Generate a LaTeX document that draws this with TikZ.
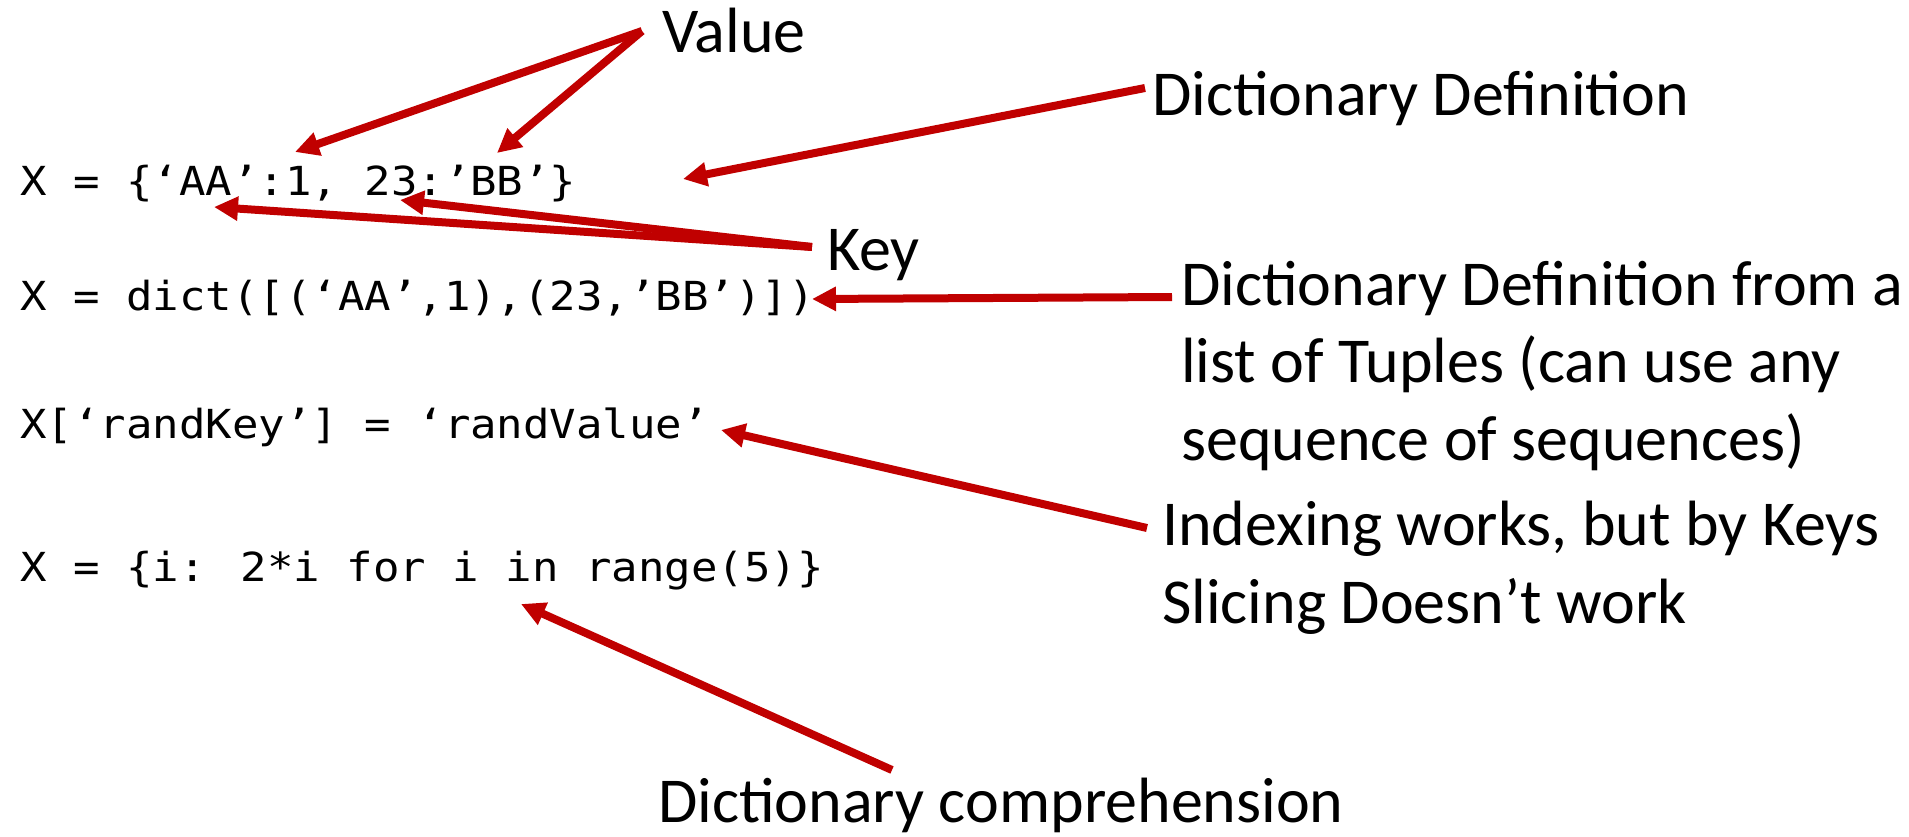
\documentclass[tikz,border=0pt]{standalone}
\usepackage{fontspec}
\setmainfont{Carlito}
\newfontfamily\codefont[FakeStretch=1.10]{DejaVu Sans Mono}
\usetikzlibrary{arrows.meta}
\definecolor{arrowred}{HTML}{C00000}
\tikzset{
  code/.style={anchor=base west, inner sep=0pt, font=\codefont\fontsize{40}{50}\selectfont},
  note/.style={anchor=base west, inner sep=0pt, align=left, font=\fontsize{64}{77.5}\selectfont},
  pointer/.style={draw=arrowred, line width=8pt, -{Triangle[length=24pt,width=23pt]}}
}
\begin{document}
\begin{tikzpicture}[x=1pt,y=-1pt]
\useasboundingbox (0,0) rectangle (1909,836);

% code lines
\node[code] (code1) at (20,195) {X = \{‘AA’:1, 23:’BB’\}};
\node[code] (code2) at (20,310) {X = dict([(‘AA’,1),(23,’BB’)])};
\node[code] (code3) at (20,438) {X[‘randKey’] = ‘randValue’};
\node[code] (code4) at (20,581) {X = \{i: 2*i for i in range(5)\}};

% annotations (multi-line ones are placed by the baseline of their last line)
\node[note] (value)    at (662,52)   {Value};
\node[note] (dictdef)  at (1152,115) {Dictionary Definition};
\node[note] (key)      at (827,270)  {Key};
\node[note] (tuples)   at (1181,460) {Dictionary Definition from a\\list of Tuples (can use any\\ sequence of sequences)};
\node[note] (indexing) at (1162,623) {Indexing works, but by Keys\\Slicing Doesn’t work};
\node[note] (compr)    at (658,822)  {Dictionary comprehension};

% arrow ends
\coordinate (valueFrom) at (642,31);
\coordinate (valTipA)   at (295,152);
\coordinate (valTipB)   at (497,153);
\coordinate (defFrom)   at (1145,88);
\coordinate (defTip)    at (683,179);
\coordinate (keyFrom)   at (812,247);
\coordinate (keyTipA)   at (214,207);
\coordinate (keyTipB)   at (400,200);
\coordinate (tupFrom)   at (1172,297);
\coordinate (tupTip)    at (812,299);
\coordinate (idxFrom)   at (1147,528);
\coordinate (idxTip)    at (721,430);
\coordinate (cmpFrom)   at (892,770);
\coordinate (cmpTip)    at (521,604);

\draw[pointer] (valueFrom) -- (valTipA);
\draw[pointer] (valueFrom) -- (valTipB);
\draw[pointer] (defFrom) -- (defTip);
\draw[pointer] (keyFrom) -- (keyTipA);
\draw[pointer] (keyFrom) -- (keyTipB);
\draw[pointer] (tupFrom) -- (tupTip);
\draw[pointer] (idxFrom) -- (idxTip);
\draw[pointer] (cmpFrom) -- (cmpTip);
\end{tikzpicture}
\end{document}
